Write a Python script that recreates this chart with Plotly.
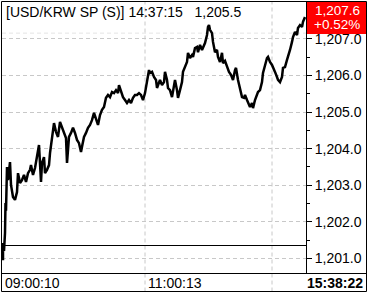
import plotly.graph_objects as go

# ---------------- data ----------------
tick_no = [3, 3, 4, 5, 5.5, 6, 7, 8, 10, 11, 13, 15, 17, 18, 20, 22, 24, 26, 28, 30,
           31, 33, 35, 37, 39, 41, 42, 44, 45, 47, 49, 50, 52, 54, 56, 58, 60, 62, 64, 66,
           67, 69, 71, 73, 75, 77, 79, 81, 82, 84, 86, 88, 90, 92, 94, 96, 98, 100, 102, 104,
           106, 108, 110, 112, 114, 116, 118, 119, 121, 123, 125, 127, 129, 131, 133, 135, 137, 139, 141, 143,
           145, 147, 149, 150, 152, 154, 156, 157, 159, 160, 162, 164, 165, 167, 168, 170, 172, 174, 175, 177,
           178, 180, 182, 183, 185, 187, 188, 190, 192, 193, 195, 197, 198, 200, 202, 203, 205, 207, 208, 209,
           210, 212, 213, 215, 217, 218, 220, 222, 223, 225, 227, 229, 231, 233, 235, 236, 238, 240, 242, 244,
           245, 247, 248, 250, 252, 253, 255, 257, 258, 260, 262, 263, 265, 267, 268, 270, 272, 273, 275, 277,
           278, 280, 282, 283, 285, 287, 288, 290, 292, 293, 295, 297, 298, 300, 302, 303, 305]

price = [1200.95, 1201.42, 1201.20, 1201.69, 1202.51, 1202.30, 1203.50, 1203.14, 1203.63, 1203.01,
         1202.68, 1202.60, 1202.81, 1203.33, 1203.06, 1203.14, 1203.28, 1203.09, 1203.33, 1203.42,
         1203.55, 1203.28, 1203.47, 1203.77, 1204.10, 1203.09, 1203.61, 1203.77, 1203.33, 1203.42,
         1203.55, 1203.88, 1204.29, 1204.70, 1204.46, 1204.32, 1204.73, 1204.57, 1204.43, 1204.29,
         1203.61, 1204.32, 1204.43, 1204.57, 1204.43, 1204.24, 1204.15, 1203.91, 1204.05, 1204.32,
         1204.43, 1204.57, 1204.65, 1204.78, 1204.98, 1204.84, 1204.65, 1204.92, 1205.06, 1205.14,
         1205.39, 1205.47, 1205.41, 1205.55, 1205.52, 1205.60, 1205.52, 1205.74, 1205.55, 1205.41,
         1205.33, 1205.25, 1205.33, 1205.25, 1205.39, 1205.47, 1205.47, 1205.52, 1205.47, 1205.33,
         1205.52, 1205.88, 1206.15, 1206.07, 1206.10, 1205.96, 1205.88, 1205.66, 1205.80, 1205.88,
         1205.74, 1205.82, 1206.10, 1205.88, 1205.66, 1205.60, 1205.41, 1205.66, 1205.88, 1205.60,
         1205.39, 1205.60, 1205.82, 1206.10, 1206.23, 1206.37, 1206.62, 1206.48, 1206.56, 1206.51,
         1206.75, 1206.78, 1206.64, 1206.84, 1206.70, 1206.75, 1206.89, 1207.11, 1207.33, 1207.38,
         1207.25, 1207.16, 1206.92, 1206.64, 1206.70, 1206.51, 1206.37, 1206.62, 1206.34, 1206.40,
         1206.25, 1206.10, 1206.02, 1205.88, 1206.15, 1206.21, 1205.88, 1205.66, 1205.41, 1205.39,
         1205.47, 1205.33, 1205.25, 1205.14, 1205.25, 1205.11, 1205.33, 1205.47, 1205.55, 1205.60,
         1205.82, 1206.07, 1206.29, 1206.48, 1206.51, 1206.37, 1206.29, 1206.21, 1206.10, 1205.96,
         1205.88, 1205.82, 1205.96, 1206.21, 1206.23, 1206.43, 1206.51, 1206.70, 1206.92, 1207.05,
         1207.19, 1207.11, 1207.30, 1207.38, 1207.33, 1207.47, 1207.60]

y_ticks = [1201, 1202, 1203, 1204, 1205, 1206, 1207]
y_tick_labels = ["1,201.0", "1,202.0", "1,203.0", "1,204.0", "1,205.0", "1,206.0", "1,207.0"]
time_grid_ticks = [145, 272]
time_labels = ["09:00:10", "11:00:13"]
current_time = "15:38:22"
prev_close = 1201.35
faint_level = 1207.16
title_text = "[USD/KRW SP (S)]\u00a014:37:15\u00a0\u00a0\u00a01,205.5"
last_price_text = "1,207.6"
change_text = "+0.52%"

# ---------------- layout geometry ----------------
W, H = 369, 296
ML, MR, MT, MB = 2, 63, 2, 23
PW = W - ML - MR
PH = H - MT - MB

def px(xp):
    return (xp - ML) / PW

def py(yp):
    return (H - MB - yp) / PH

FONT = "Liberation Sans, Arial, sans-serif"

fig = go.Figure()
fig.add_trace(go.Scatter(x=tick_no, y=price, mode="lines",
                         line=dict(color="black", width=2.5), hoverinfo="skip"))

shapes = []
# faint level line
shapes.append(dict(type="line", xref="paper", yref="y", x0=0, x1=1, y0=faint_level, y1=faint_level,
                   line=dict(color="#e4e4e4", width=1, dash="4px,3px"), layer="below"))
# vertical time gridlines extending into the bottom strip
for t in time_grid_ticks:
    shapes.append(dict(type="line", xref="x", yref="paper", x0=t, x1=t, y0=py(291.5), y1=1,
                       line=dict(color="#c8c8c8", width=1, dash="4px,3px"), layer="below"))
# previous close line
shapes.append(dict(type="line", xref="paper", yref="y", x0=0, x1=1, y0=prev_close, y1=prev_close,
                   line=dict(color="black", width=1)))
# outer frame
shapes.append(dict(type="rect", xref="paper", yref="paper", x0=px(1.5), x1=px(366.5), y0=py(291.5), y1=py(1.5),
                   line=dict(color="black", width=1), fillcolor="rgba(0,0,0,0)"))
# plot / axis separator
shapes.append(dict(type="line", xref="paper", yref="paper", x0=px(306.5), x1=px(306.5), y0=py(273.5), y1=py(1.5),
                   line=dict(color="black", width=1)))
# bottom strip top line
shapes.append(dict(type="line", xref="paper", yref="paper", x0=px(1.5), x1=px(366.5), y0=py(273.5), y1=py(273.5),
                   line=dict(color="black", width=1)))
# red last-price box
shapes.append(dict(type="rect", xref="paper", yref="paper", x0=px(307), x1=px(366), y0=py(34), y1=py(2),
                   line=dict(width=0), fillcolor="#ff0000"))

annotations = [
    dict(text=title_text, xref="paper", yref="paper", x=px(4), y=py(12), xanchor="left", yanchor="middle",
         showarrow=False, font=dict(family=FONT, size=14, color="black")),
    dict(text=last_price_text, xref="paper", yref="paper", x=px(337), y=py(10), xanchor="center", yanchor="middle",
         showarrow=False, font=dict(family=FONT, size=13.5, color="white")),
    dict(text=change_text, xref="paper", yref="paper", x=px(337), y=py(24.8), xanchor="center", yanchor="middle",
         showarrow=False, font=dict(family=FONT, size=13.5, color="white")),
    dict(text=time_labels[0], xref="paper", yref="paper", x=px(2.5), y=py(283), xanchor="left", yanchor="middle",
         showarrow=False, font=dict(family=FONT, size=14, color="black")),
    dict(text=time_labels[1], xref="x", yref="paper", x=time_grid_ticks[0] + 0.5, y=py(283), xanchor="left",
         yanchor="middle", showarrow=False, font=dict(family=FONT, size=14, color="black")),
    dict(text="<b>" + current_time + "</b>", xref="paper", yref="paper", x=px(365), y=py(283), xanchor="right",
         yanchor="middle", showarrow=False, font=dict(family=FONT, size=14, color="black")),
]

fig.update_layout(
    width=W, height=H,
    margin=dict(l=ML, r=MR, t=MT, b=MB, pad=0),
    paper_bgcolor="white", plot_bgcolor="white",
    showlegend=False,
    shapes=shapes, annotations=annotations,
    xaxis=dict(range=[2, 306], showgrid=False, showticklabels=False, ticks="", zeroline=False,
               showline=False, fixedrange=True),
    yaxis=dict(range=[1200.598, 1208.012], side="right", tickvals=y_ticks, ticktext=y_tick_labels,
               showgrid=True, gridcolor="#c8c8c8", griddash="4px,3px", gridwidth=1,
               ticks="outside", ticklen=5, tickcolor="black", tickwidth=1,
               tickfont=dict(family=FONT, size=14, color="black"),
               minor=dict(dtick=0.5, tick0=1200.5, ticks="outside", ticklen=3, tickcolor="black", showgrid=False),
               zeroline=False, showline=False, fixedrange=True),
)

fig.write_html("out.html")
